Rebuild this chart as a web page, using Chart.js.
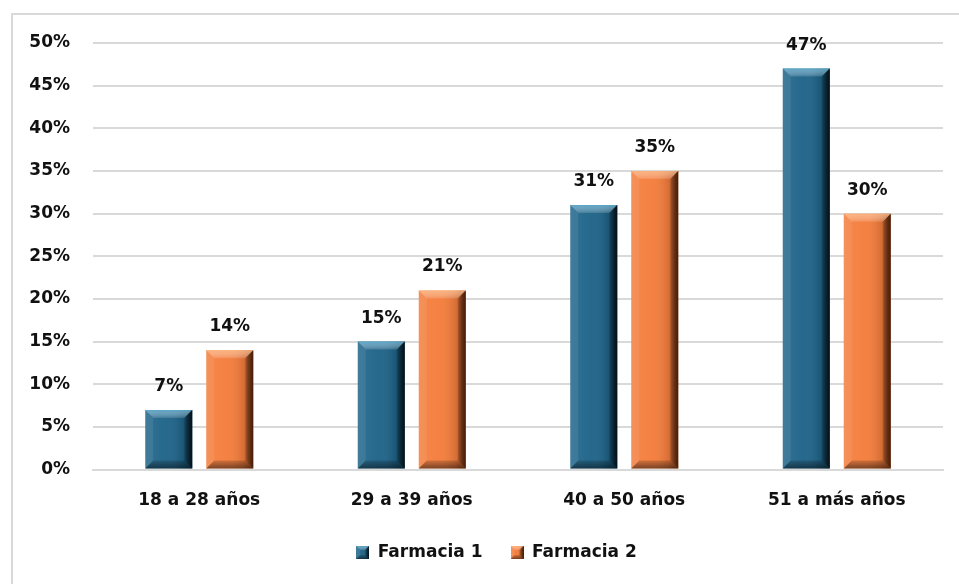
<!DOCTYPE html>
<html>
<head>
<meta charset="utf-8">
<script src="https://cdn.jsdelivr.net/npm/chart.js@4.4.1/dist/chart.umd.min.js"></script>
<style>
  html, body { margin: 0; padding: 0; background: #fff; }
  body { width: 959px; height: 584px; overflow: hidden; position: relative; }
  #frame { position: absolute; left: 11px; top: 13px; width: 990px; height: 620px; border: 2px solid #d9d9d9; }
  #wrap { position: absolute; left: 0; top: 0; width: 959px; height: 584px; }
</style>
</head>
<body>
<div id="frame"></div>
<div id="wrap"><canvas id="chart"></canvas></div>
<script>
const categories = ['18 a 28 años', '29 a 39 años', '40 a 50 años', '51 a más años']
const farmacia1 = [7, 15, 31, 47]
const farmacia2 = [14, 21, 35, 30]
const seriesNames = ['Farmacia 1', 'Farmacia 2']

const baseColors = ['#1f6489', '#f47d3c']
const bevelLight = ['rgba(110,185,220,0.75)', 'rgba(255,195,145,0.7)']
const bevelDark = ['rgba(0,12,20,0.9)', 'rgba(60,20,0,0.85)']
const FONT = '"DejaVu Sans", Arial, sans-serif'

function shade(ctx, pts, fill) {
    ctx.beginPath()
    ctx.moveTo(pts[0][0], pts[0][1])
    for (let i = 1; i < pts.length; i++) ctx.lineTo(pts[i][0], pts[i][1])
    ctx.closePath()
    ctx.fillStyle = fill
    ctx.fill()
}

function bevelRect(ctx, l, t, r, bt, b, idx) {
    // face: light on left, dark toward right
    let g = ctx.createLinearGradient(l, 0, r, 0)
    g.addColorStop(0, 'rgba(255,255,255,0.08)')
    g.addColorStop(0.45, 'rgba(255,255,255,0.03)')
    g.addColorStop(0.8, 'rgba(0,0,0,0.12)')
    g.addColorStop(1, 'rgba(0,0,0,0.35)')
    shade(ctx, [[l, t], [r, t], [r, bt], [l, bt]], g)
    // top
    g = ctx.createLinearGradient(0, t, 0, t + b)
    g.addColorStop(0, bevelLight[idx])
    g.addColorStop(1, 'rgba(255,255,255,0.12)')
    shade(ctx, [[l, t], [r, t], [r - b, t + b], [l + b, t + b]], g)
    // left
    shade(ctx, [[l, t], [l + b, t + b], [l + b, bt - b], [l, bt]], 'rgba(255,255,255,0.08)')
    // right
    g = ctx.createLinearGradient(r - b, 0, r, 0)
    g.addColorStop(0, 'rgba(0,0,0,0.15)')
    g.addColorStop(1, bevelDark[idx])
    shade(ctx, [[r, t], [r, bt], [r - b, bt - b], [r - b, t + b]], g)
    // bottom
    g = ctx.createLinearGradient(0, bt - b, 0, bt)
    g.addColorStop(0, 'rgba(0,0,0,0.15)')
    g.addColorStop(1, 'rgba(0,0,0,0.5)')
    shade(ctx, [[l, bt], [r, bt], [r - b, bt - b], [l + b, bt - b]], g)
}

const bevelPlugin = {
    id: 'bevel',
    afterDatasetsDraw(chart) {
        const ctx = chart.ctx
        ctx.save()
        chart.data.datasets.forEach((ds, i) => {
            chart.getDatasetMeta(i).data.forEach((bar) => {
                const p = bar.getProps(['x', 'y', 'base', 'width'], true)
                const l = p.x - p.width / 2, r = p.x + p.width / 2
                const b = Math.min(8, (p.base - p.y) / 2)
                bevelRect(ctx, l, p.y, r, p.base, b, i)
            })
        })
        ctx.restore()
    }
}

const labelPlugin = {
    id: 'valueLabels',
    afterDatasetsDraw(chart) {
        const ctx = chart.ctx
        ctx.save()
        ctx.font = 'bold 17px ' + FONT
        ctx.fillStyle = '#111'
        ctx.textAlign = 'center'
        ctx.textBaseline = 'bottom'
        chart.data.datasets.forEach((ds, i) => {
            chart.getDatasetMeta(i).data.forEach((bar, j) => {
                ctx.fillText(ds.data[j] + '%', bar.x, bar.y - 15)
            })
        })
        ctx.restore()
    }
}

// the original frame is wider than the visible crop, so its legend sits right of centre
const legendShift = {
    id: 'legendShift',
    afterLayout(chart) {
        if (chart.legend) {
            chart.legend.left += 25
            chart.legend.right += 25
            chart.legend.top -= 8
            chart.legend.bottom -= 8
        }
    }
}

function legendIcon(idx) {
    const c = document.createElement('canvas')
    c.width = 13; c.height = 13
    const x = c.getContext('2d')
    x.fillStyle = baseColors[idx]
    x.fillRect(0, 0, 13, 13)
    bevelRect(x, 0, 0, 13, 13, 4, idx)
    return c
}

const ctx = document.getElementById('chart').getContext('2d')
new Chart(ctx, {
    type: 'bar',
    data: {
        labels: categories,
        datasets: [
            { label: seriesNames[0], data: farmacia1, backgroundColor: baseColors[0], pointStyle: legendIcon(0) },
            { label: seriesNames[1], data: farmacia2, backgroundColor: baseColors[1], pointStyle: legendIcon(1) }
        ]
    },
    options: {
        responsive: true,
        maintainAspectRatio: false,
        animation: false,
        categoryPercentage: 0.574,
        barPercentage: 0.77,
        layout: { padding: { left: 0, right: 16, top: 43, bottom: 5 } },
        scales: {
            x: {
                grid: { display: false },
                border: { display: true, color: '#d9d9d9', width: 2 },
                ticks: {
                    color: '#111',
                    padding: 13,
                    font: { family: FONT, size: 17, weight: 'bold' }
                }
            },
            y: {
                min: 0,
                max: 50,
                afterFit(scale) { scale.width = 93 },
                grid: { color: '#d9d9d9', lineWidth: 2, drawTicks: false },
                border: { display: false },
                ticks: {
                    stepSize: 5,
                    color: '#111',
                    padding: 23,
                    font: { family: FONT, size: 17, weight: 'bold' },
                    callback: (v) => v + '%'
                }
            }
        },
        plugins: {
            tooltip: { enabled: false },
            legend: {
                position: 'bottom',
                labels: {
                    usePointStyle: true,
                    pointStyleWidth: 13,
                    color: '#111',
                    padding: 28,
                    font: { family: FONT, size: 17, weight: 'bold' }
                }
            }
        }
    },
    plugins: [bevelPlugin, labelPlugin, legendShift]
})
</script>
</body>
</html>
